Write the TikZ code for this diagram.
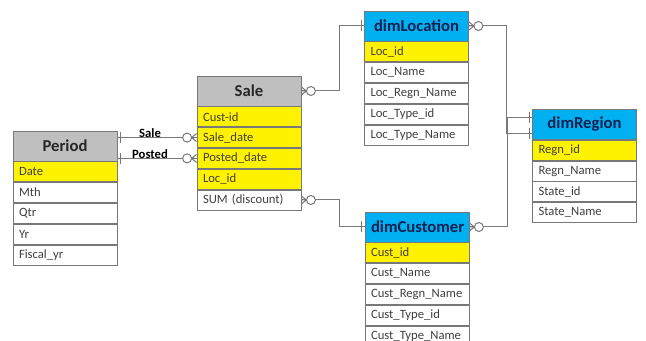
\documentclass[tikz,border=0pt]{standalone}
\usepackage{fontspec}
\setmainfont{Carlito}
\usetikzlibrary{positioning}

\definecolor{linegray}{RGB}{120,120,120}
\definecolor{headgray}{RGB}{191,191,191}
\definecolor{headblue}{RGB}{0,176,240}
\definecolor{keyyellow}{RGB}{255,242,0}
\definecolor{rowtext}{RGB}{64,64,64}
\definecolor{navytext}{RGB}{16,32,80}

\tikzset{every picture/.style={line width=0.75pt}}
\tikzset{
  row/.style={draw=linegray, line width=0.6pt, fill=white, text=rowtext,
    minimum height=15pt, inner xsep=4.5pt, inner ysep=0pt, text width=69pt,
    align=left, font=\fontsize{9.5}{11}\selectfont},
  keyrow/.style={row, fill=keyyellow},
  head/.style={row, minimum height=22.5pt, align=center, text=black!85,
    font=\fontsize{12.5}{14}\selectfont\bfseries},
  dimhead/.style={head, fill=headblue, text=navytext},
  facthead/.style={head, fill=headgray},
  link/.style={draw=linegray, line width=0.75pt},
  rellabel/.style={inner sep=0.75pt, anchor=south, font=\fontsize{9.5}{11}\selectfont\bfseries},
  manyopt/.pic={
    \draw[link] (0,-4) -- (5,0) (0,0) -- (5,0) (0,4) -- (5,0);
    \draw[link, fill=white] (9.5,0) circle[radius=4.5];
  },
  onebar/.pic={
    \draw[link] (3,-5.5) -- (3,5.5);
  }
}

\begin{document}
\begin{tikzpicture}[x=0.75pt,y=0.75pt,yscale=-1,xscale=1]
	\useasboundingbox (0,0) rectangle (646,341);
	% Period
	\node[facthead] (period) at (65,146) {Period};
	\node[keyrow, below=0pt of period] (period-date) {Date};
	\node[row, below=0pt of period-date] (period-mth) {Mth};
	\node[row, below=0pt of period-mth] (period-qtr) {Qtr};
	\node[row, below=0pt of period-qtr] (period-yr) {Yr};
	\node[row, below=0pt of period-yr] (period-fyr) {Fiscal\_yr};
	% Sale
	\node[facthead] (sale) at (249,91) {Sale};
	\node[keyrow, below=0pt of sale] (sale-cust) {Cust-id};
	\node[keyrow, below=0pt of sale-cust] (sale-date) {Sale\_date};
	\node[keyrow, below=0pt of sale-date] (sale-posted) {Posted\_date};
	\node[keyrow, below=0pt of sale-posted] (sale-loc) {Loc\_id};
	\node[row, below=0pt of sale-loc] (sale-sum) {SUM (discount)};
	% dimLocation
	\node[dimhead] (loc) at (416.5,26) {dimLocation};
	\node[keyrow, below=0pt of loc] (loc-id) {Loc\_id};
	\node[row, below=0pt of loc-id] (loc-name) {Loc\_Name};
	\node[row, below=0pt of loc-name] (loc-regn) {Loc\_Regn\_Name};
	\node[row, below=0pt of loc-regn] (loc-typeid) {Loc\_Type\_id};
	\node[row, below=0pt of loc-typeid] (loc-typename) {Loc\_Type\_Name};
	% dimRegion
	\node[dimhead] (regn) at (584.5,124.5) {dimRegion};
	\node[keyrow, below=0pt of regn] (regn-id) {Regn\_id};
	\node[row, below=0pt of regn-id] (regn-name) {Regn\_Name};
	\node[row, below=0pt of regn-name] (regn-state) {State\_id};
	\node[row, below=0pt of regn-state] (regn-statename) {State\_Name};
	% dimCustomer
	\node[dimhead] (cust) at (417,227) {dimCustomer};
	\node[keyrow, below=0pt of cust] (cust-id) {Cust\_id};
	\node[row, below=0pt of cust-id] (cust-name) {Cust\_Name};
	\node[row, below=0pt of cust-name] (cust-regn) {Cust\_Regn\_Name};
	\node[row, below=0pt of cust-regn] (cust-typeid) {Cust\_Type\_id};
	\node[row, below=0pt of cust-typeid] (cust-typename) {Cust\_Type\_Name};

	% connectors
	\draw[link] (sale-date.west) -- (sale-date.west -| period.east);
	\draw[link] (sale-posted.west) -- (sale-posted.west -| period.east);
	\draw[link] (sale.east) -- ++(38,0) |- (loc.west);
	\draw[link] (sale-sum.east) -- ++(38,0) |- (cust.west);
	\draw[link] (loc.east) -- ++(38,0) |- ([yshift=6.5pt]regn.west);
	\draw[link] (cust.east) -- ++(38,0) |- ([yshift=-5.5pt]regn.west);

	% ends
	\pic[rotate=180] at (sale-date.west) {manyopt};
	\pic[rotate=180] at (sale-posted.west) {manyopt};
	\pic at (sale-date.west -| period.east) {onebar};
	\pic at (sale-posted.west -| period.east) {onebar};
	\pic at (sale.east) {manyopt};
	\pic at (sale-sum.east) {manyopt};
	\pic[rotate=180] at (loc.west) {onebar};
	\pic[rotate=180] at (cust.west) {onebar};
	\pic at (loc.east) {manyopt};
	\pic at (cust.east) {manyopt};
	\pic[rotate=180] at ([yshift=6.5pt]regn.west) {onebar};
	\pic[rotate=180] at ([yshift=-5.5pt]regn.west) {onebar};

	% relation names
	\coordinate (lblx) at (150,0);
	\node[rellabel] (lbl-sale) at ([yshift=1pt]sale-date.west -| lblx) {Sale};
	\node[rellabel] (lbl-posted) at ([yshift=1pt]sale-posted.west -| lblx) {Posted};
\end{tikzpicture}
\end{document}
